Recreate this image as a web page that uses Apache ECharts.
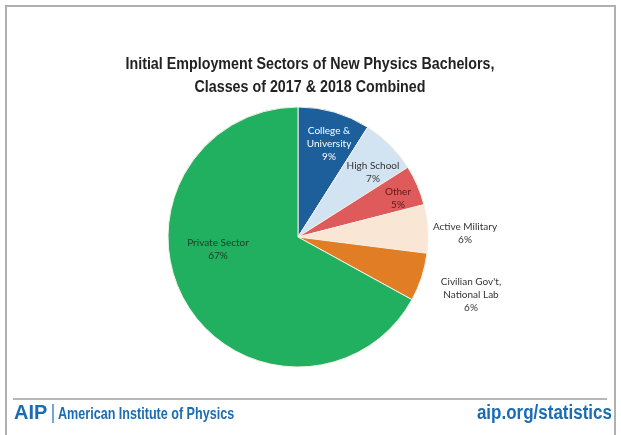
<!DOCTYPE html>
<html><head><meta charset="utf-8">
<script src="https://cdn.jsdelivr.net/npm/echarts@6/dist/echarts.min.js"></script>
<style>html,body{margin:0;padding:0;background:#fff}#c{width:621px;height:435px}</style>
</head><body><div id="c"></div>
<script>
const categories = ["College & University", "High School", "Other", "Active Military", "Civilian Gov't, National Lab", "Private Sector"];
const labelTexts = ["College &\nUniversity", "High School", "Other", "Active Military", "Civilian Gov't,\nNational Lab", "Private Sector"];
const values = [9, 7, 5, 6, 6, 67];
const colors = ["#1d5f9b", "#d2e3f1", "#df5b5b", "#f9e6d4", "#e17d25", "#21b05f"];
const labelColors = ["#fdfdfd", "#333333", "#5a1a1a", "#333333", "#333333", "#1d3b25"];
const labelOffsets = [[31, -93], [75, -65], [100, -39], [167, -4], [173, 58], [-80, 12]];
const titleLines = ["Initial Employment Sectors of New Physics Bachelors,", "Classes of 2017 & 2018 Combined"];

const chart = echarts.init(document.getElementById('c'));
const data = categories.map((n, i) => ({
  name: n, value: values[i],
  itemStyle: { color: colors[i] },
  label: { show: true, color: labelColors[i], offset: labelOffsets[i] }
}));
const titleFont = 'bold 17px Liberation Sans, Arial, sans-serif';
chart.setOption({
  animation: false,
  backgroundColor: '#fff',
  graphic: [
    { type: 'rect', shape: { x: 6, y: 6, width: 609, height: 440 }, style: { fill: 'none', stroke: '#b0b0b0', lineWidth: 2 } },
    { type: 'text', x: 310, y: 64, scaleX: 0.84, style: { text: titleLines[0], fill: '#222', font: titleFont, align: 'center', verticalAlign: 'middle' } },
    { type: 'text', x: 310, y: 87, scaleX: 0.84, style: { text: titleLines[1], fill: '#222', font: titleFont, align: 'center', verticalAlign: 'middle' } },
    { type: 'line', shape: { x1: 13, y1: 399, x2: 607, y2: 399 }, style: { stroke: '#a0a0a0', lineWidth: 1.5 } },
    { type: 'text', x: 14, y: 413, scaleX: 0.95, style: { text: 'AIP', fill: '#1a6cb3', font: 'bold 21px Liberation Sans, sans-serif', verticalAlign: 'middle' } },
    { type: 'line', shape: { x1: 53, y1: 404, x2: 53, y2: 423 }, style: { stroke: '#1a6cb3', lineWidth: 1.2 } },
    { type: 'text', x: 58, y: 414, scaleX: 0.74, style: { text: 'American Institute of Physics', fill: '#1a6cb3', font: 'bold 17px Liberation Sans, sans-serif', verticalAlign: 'middle' } },
    { type: 'text', x: 612, y: 413, scaleX: 0.85, style: { text: 'aip.org/statistics', fill: '#1a6cb3', font: 'bold 20px Liberation Sans, sans-serif', align: 'right', verticalAlign: 'middle' } }
  ],
  series: [{
    type: 'pie', center: [298, 237], radius: [0, 130],
    startAngle: 90, clockwise: true, avoidLabelOverlap: false, minShowLabelAngle: 0,
    itemStyle: { borderColor: '#f4f0e6', borderWidth: 1 },
    label: { show: true, position: 'center', formatter: p => labelTexts[p.dataIndex] + '\n' + p.value + '%', fontFamily: 'Lato, Open Sans, sans-serif', fontSize: 10, lineHeight: 13, align: 'center' },
    labelLine: { show: false },
    labelLayout: { hideOverlap: false },
    emphasis: { disabled: true },
    data: data
  }]
});
</script></body></html>
